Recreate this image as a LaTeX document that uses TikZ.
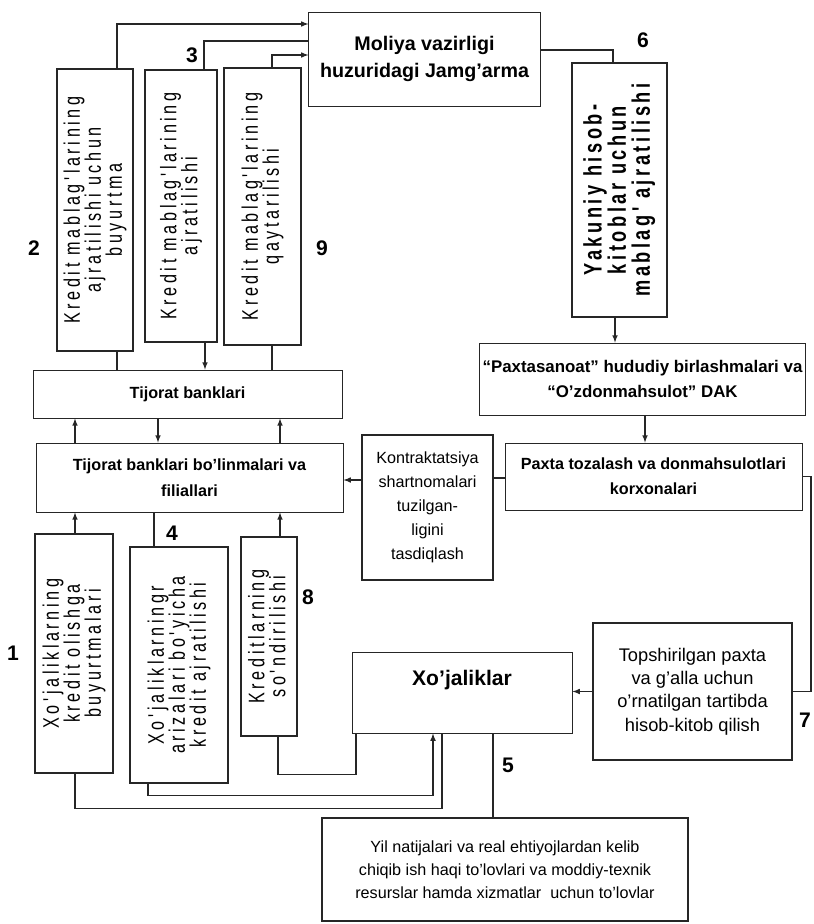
\documentclass[tikz,border=0pt]{standalone}
\usepackage{graphicx}
\usepackage{fontspec}
\setmainfont{Liberation Sans}
\newfontfamily\spaced{Liberation Sans}[FakeStretch=0.72, LetterSpace=16]
\newfontfamily\spacedwide{Liberation Sans}[FakeStretch=0.72, LetterSpace=14]

\newcommand{\uptext}[1]{\rotatebox{90}{\renewcommand{\arraystretch}{0.8}\begin{tabular}{@{}c@{}}#1\end{tabular}}}

\tikzset{
  box/.style={draw=black!85, line width=0.6pt, fill=white, align=center, inner sep=2pt},
  thickbox/.style={box, line width=1.7pt},
  upbox/.style={thickbox, font=\spaced\fontsize{16}{14}\selectfont},
  num/.style={font=\bfseries\fontsize{15}{15}\selectfont},
  link/.style={draw=black!85, line width=0.8pt},
}

\begin{document}
\begin{tikzpicture}[x=0.025cm, y=-0.025cm, >=latex]
      % \draw[help lines](0,0) grid[step=50] (813,924);

      % Bounding box
      \useasboundingbox (0,0) rectangle (813,924);

      \draw (424.5,59) node[box, minimum width=5.78cm, minimum height=2.35cm,
        font=\bfseries\fontsize{14}{19}\selectfont] (moliya) {Moliya vazirligi\\huzuridagi Jamg'arma};

      \draw (95,210) node[upbox, minimum width=1.9cm, minimum height=7.05cm] (zakaz)
        {\uptext{Kredit mablag'larining\\ajratilishi uchun\\buyurtma}};
      \draw (181,206) node[upbox, minimum width=1.8cm, minimum height=6.8cm] (ajrat)
        {\uptext{Kredit mablag'larining\\ajratilishi}};
      \draw (262.5,206.5) node[upbox, minimum width=1.925cm, minimum height=6.925cm] (qaytar)
        {\uptext{Kredit mablag'larining\\qaytarilishi}};
      \draw (619.5,190) node[upbox, minimum width=2.375cm, minimum height=6.35cm,
        font=\spacedwide\bfseries\fontsize{18}{17}\selectfont] (yakuniy)
        {\uptext{Yakuniy hisob-\\kitoblar uchun\\mablag' ajratilishi}};

      \draw (187.5,394) node[box, minimum width=7.725cm, minimum height=1.2cm,
        font=\bfseries\fontsize{11.5}{18}\selectfont] (tijorat) {Tijorat banklari};
      \draw (189.5,477.5) node[box, minimum width=7.675cm, minimum height=1.725cm,
        font=\bfseries\fontsize{11.5}{18.5}\selectfont] (filial) {Tijorat banklari bo'linmalari va\\filiallari};
      \draw (427.5,507.5) node[thickbox, minimum width=3.275cm, minimum height=3.625cm,
        font=\fontsize{11.5}{17}\selectfont] (kontrakt) {Kontraktatsiya\\shartnomalari\\tuzilgan-\\ligini\\tasdiqlash};
      \draw (642.5,379) node[box, minimum width=8.025cm, minimum height=1.8cm,
        font=\bfseries\fontsize{12}{18}\selectfont] (paxtasanoat) {``Paxtasanoat'' hududiy birlashmalari va\\``O'zdonmahsulot'' DAK};
      \draw (653.5,476.5) node[box, minimum width=7.425cm, minimum height=1.675cm,
        font=\bfseries\fontsize{11.5}{18}\selectfont] (tozalash) {Paxta tozalash va donmahsulotlari\\korxonalari};

      \draw (74,653.5) node[upbox, minimum width=1.95cm, minimum height=5.975cm] (buyurtma)
        {\uptext{Xo'jaliklarning\\kredit olishga\\buyurtmalari}};
      \draw (179,665) node[upbox, minimum width=2.45cm, minimum height=5.9cm] (ajratish)
        {\uptext{Xo'jaliklarningr\\arizalari bo'yicha\\kredit ajratilishi}};
      \draw (269,636.5) node[upbox, minimum width=1.4cm, minimum height=4.975cm] (sondir)
        {\uptext{Kreditlarning\\so'ndirilishi}};

      \draw (462,692.5) node[box, minimum width=5.5cm, inner sep=0pt, text height=0.825cm, text depth=1.2cm,
        font=\bfseries\fontsize{15}{18}\selectfont] (xojalik) {Xo'jaliklar};
      \draw (692.5,691.5) node[thickbox, minimum width=4.975cm, minimum height=3.425cm,
        font=\fontsize{13}{16.5}\selectfont] (topshir) {Topshirilgan paxta\\va g'alla uchun\\o'rnatilgan tartibda\\hisob-kitob qilish};
      \draw (505,869.5) node[thickbox, minimum width=9.15cm, minimum height=2.575cm,
        font=\fontsize{11.5}{16.5}\selectfont] (yil) {Yil natijalari va real ehtiyojlardan kelib\\chiqib ish haqi to'lovlari va moddiy-texnik\\resurslar hamda xizmatlar \ uchun to'lovlar};

      \draw (13,653) node[num] (n1) {1};
      \draw (34,248) node[num] (n2) {2};
      \draw (192,55) node[num] (n3) {3};
      \draw (172,533) node[num] (n4) {4};
      \draw (508,765) node[num] (n5) {5};
      \draw (643,40) node[num] (n6) {6};
      \draw (805,720) node[num] (n7) {7};
      \draw (308,597) node[num] (n8) {8};
      \draw (322,248) node[num] (n9) {9};

      % fund links
      \draw [link,->] (117,0 |- zakaz.north) |- (moliya.west |- 0,24);
      \draw [link] (moliya.west |- 0,41) -| (204,0 |- ajrat.north);
      \draw [link,->] (272,0 |- qaytar.north) |- (moliya.west |- 0,55);
      \draw [link] (moliya.east |- 0,50) -| (613,0 |- yakuniy.north);
      \draw [link,->] (615,0 |- yakuniy.south) -- (615,0 |- paxtasanoat.north);
      \draw [link,->] (645,0 |- paxtasanoat.south) -- (645,0 |- tozalash.north);
      \draw [link] (tozalash.west |- 0,478) -- (kontrakt.east |- 0,478);
      \draw [link,->] (kontrakt.west |- 0,480) -- (filial.east |- 0,480);
      \draw [link] (tozalash.east) -- (811,0 |- tozalash.east) |- (topshir.east);
      \draw [link,->] (topshir.west) -- (xojalik.east |- topshir.west);
      \draw [link] (493,0 |- xojalik.south) -- (493,0 |- yil.north);

      % banks
      \draw [link] (117,0 |- zakaz.south) -- (117,0 |- tijorat.north);
      \draw [link,->] (205,0 |- ajrat.south) -- (205,0 |- tijorat.north);
      \draw [link] (272,0 |- qaytar.south) -- (272,0 |- tijorat.north);
      \draw [link,->] (75,0 |- filial.north) -- (75,0 |- tijorat.south);
      \draw [link,->] (158,0 |- tijorat.south) -- (158,0 |- filial.north);
      \draw [link,->] (280,0 |- filial.north) -- (280,0 |- tijorat.south);

      % farms
      \draw [link,->] (75,0 |- buyurtma.north) -- (75,0 |- filial.south);
      \draw [link] (75,0 |- buyurtma.south) -- ++(0,34) -| (442,0 |- xojalik.south);
      \draw [link] (154,0 |- filial.south) -- (154,0 |- ajratish.north);
      \draw [link,->] (148,0 |- ajratish.south) -- ++(0,11) -| (433,0 |- xojalik.south);
      \draw [link,->] (280,0 |- sondir.north) -- (280,0 |- filial.south);
      \draw [link] (278,0 |- sondir.south) -- ++(0,37) -| (356,0 |- xojalik.south);
    \end{tikzpicture}
\end{document}
